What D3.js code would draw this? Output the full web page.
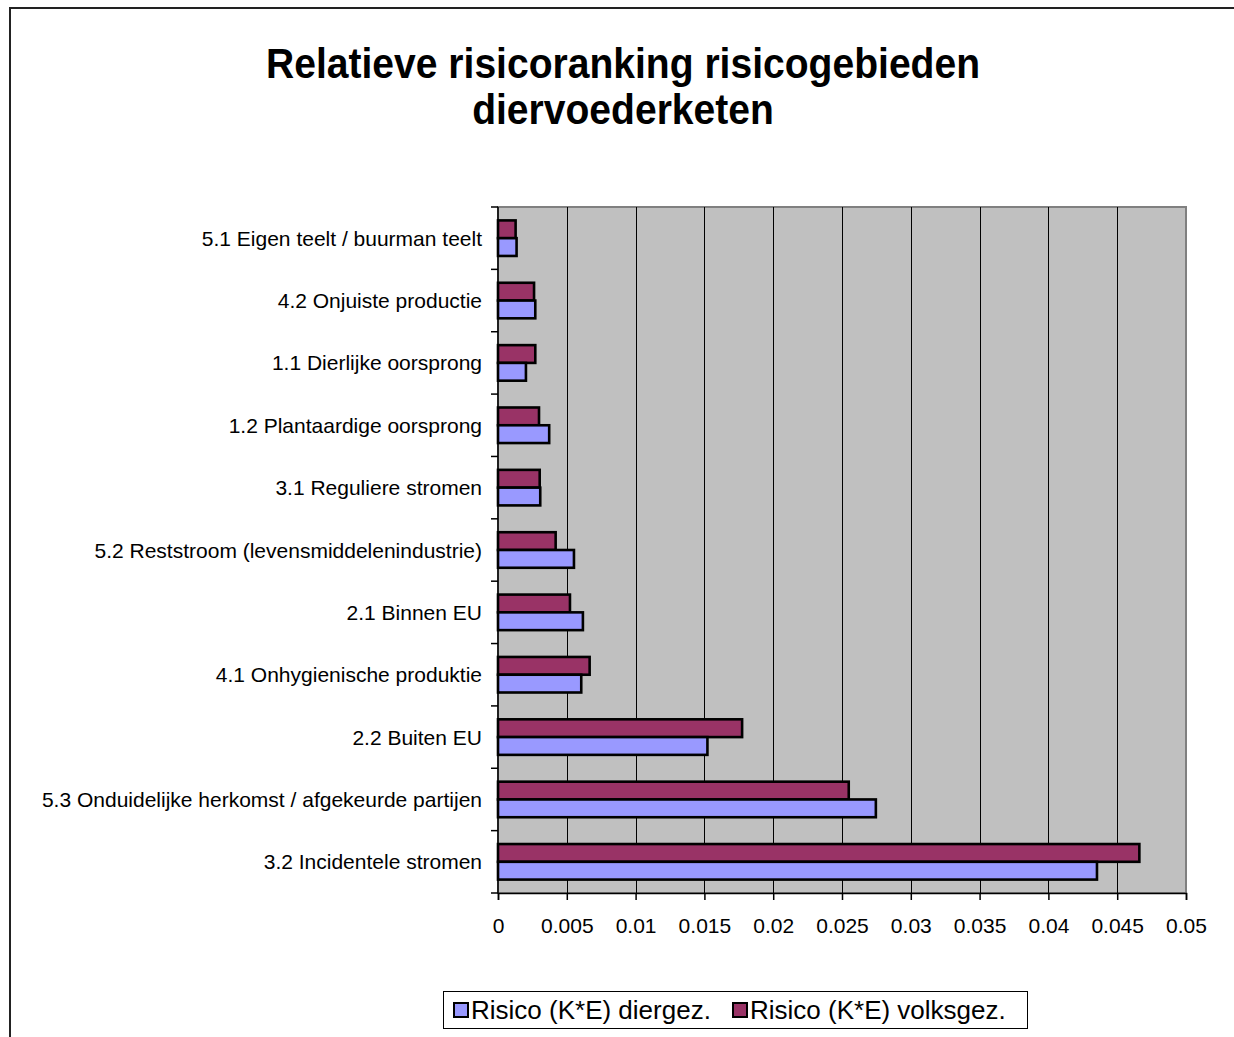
<!DOCTYPE html>
<html>
<head>
<meta charset="utf-8">
<script src="https://cdn.jsdelivr.net/npm/d3@7"></script>
<style>
  body { margin: 0; background: #fff; }
  text { font-family: "Liberation Sans", Arial, sans-serif; fill: #000; }
</style>
</head>
<body>
<svg></svg>
<script>
// categories, listed top to bottom as they appear
const categories = [
	"5.1 Eigen teelt / buurman teelt",
	"4.2 Onjuiste productie",
	"1.1 Dierlijke oorsprong",
	"1.2 Plantaardige oorsprong",
	"3.1 Reguliere stromen",
	"5.2 Reststroom (levensmiddelenindustrie)",
	"2.1 Binnen EU",
	"4.1 Onhygienische produktie",
	"2.2 Buiten EU",
	"5.3 Onduidelijke herkomst / afgekeurde partijen",
	"3.2 Incidentele stromen",
];
const diergez = [0.00135, 0.00271, 0.00203, 0.00372, 0.00307, 0.00552, 0.00617, 0.00605, 0.01522, 0.02746, 0.04353];
const volksgez = [0.00128, 0.00262, 0.00271, 0.00298, 0.00303, 0.00419, 0.00523, 0.00666, 0.01774, 0.02549, 0.04661];
const seriesNames = ["Risico (K*E) diergez.", "Risico (K*E) volksgez."];
const xTicks = [0, 0.005, 0.01, 0.015, 0.02, 0.025, 0.03, 0.035, 0.04, 0.045, 0.05];

const size = { w: 1234, h: 1037 };
const plot = { l: 498, r: 1186, t: 207, b: 893 };
const colors = { dier: "#9999FF", volks: "#993366" };

const svg = d3.select("svg").attr("width", size.w).attr("height", size.h);

// outer chart border (cut off at right and bottom)
svg.append("path")
	.attr("d", `M10,${size.h + 5}V8H${size.w + 5}`)
	.attr("fill", "none")
	.attr("stroke", "#222")
	.attr("stroke-width", 2);

// title (Excel renders it a bit condensed)
const title = svg.append("text")
	.attr("text-anchor", "middle")
	.attr("font-weight", "bold")
	.attr("font-size", 42)
	.attr("transform", "translate(623,0) scale(0.93,1)");
title.append("tspan").attr("x", 0).attr("y", 78).text("Relatieve risicoranking risicogebieden");
title.append("tspan").attr("x", 0).attr("y", 124).text("diervoederketen");

const x = d3.scaleLinear().domain([0, 0.05]).range([plot.l, plot.r]);
const y = d3.scaleBand().domain(categories).range([plot.t, plot.b]).paddingInner(0.43).paddingOuter(0.215);
const step = y.step();

// plot background
svg.append("rect")
	.attr("x", plot.l).attr("y", plot.t)
	.attr("width", plot.r - plot.l).attr("height", plot.b - plot.t)
	.attr("fill", "#C0C0C0")
	.attr("stroke", "#808080")
	.attr("stroke-width", 2);

// vertical gridlines
svg.append("g")
	.selectAll("line")
	.data(xTicks.filter((d) => d > 0 && d < 0.05))
	.join("line")
	.attr("x1", (d) => Math.round(x(d)) + 0.5)
	.attr("x2", (d) => Math.round(x(d)) + 0.5)
	.attr("y1", plot.t)
	.attr("y2", plot.b)
	.attr("stroke", "#000")
	.attr("stroke-width", 1);

// bars
const half = y.bandwidth() / 2;
const barsG = svg.append("g");
const rows = categories.map((c, i) => ({ c, dier: diergez[i], volks: volksgez[i] }));

barsG.selectAll("rect.volks")
	.data(rows)
	.join("rect")
	.classed("volks", true)
	.attr("x", x(0))
	.attr("y", (d) => y(d.c))
	.attr("width", (d) => x(d.volks) - x(0))
	.attr("height", half)
	.attr("fill", colors.volks)
	.attr("stroke", "#000")
	.attr("stroke-width", 2.6);

barsG.selectAll("rect.dier")
	.data(rows)
	.join("rect")
	.classed("dier", true)
	.attr("x", x(0))
	.attr("y", (d) => y(d.c) + half)
	.attr("width", (d) => x(d.dier) - x(0))
	.attr("height", half)
	.attr("fill", colors.dier)
	.attr("stroke", "#000")
	.attr("stroke-width", 2.6);

// x axis
const xAxis = svg.append("g")
	.attr("transform", `translate(0,${plot.b})`)
	.call(d3.axisBottom(x).tickValues(xTicks).tickSize(7).tickPadding(18).tickFormat((d) => String(+d.toFixed(3))));
xAxis.select(".domain").attr("stroke", "#000").attr("stroke-width", 1.5);
xAxis.selectAll("line").attr("stroke", "#000").attr("stroke-width", 1.5);
xAxis.selectAll("text").attr("font-size", 21).attr("font-family", "Liberation Sans, Arial, sans-serif");

// y axis: ticks at category boundaries, labels centred in bands
const yAxis = svg.append("g");
yAxis.append("line")
	.attr("x1", plot.l).attr("x2", plot.l)
	.attr("y1", plot.t).attr("y2", plot.b)
	.attr("stroke", "#000").attr("stroke-width", 1.5);
yAxis.selectAll("line.tick")
	.data(d3.range(categories.length + 1))
	.join("line")
	.classed("tick", true)
	.attr("x1", plot.l - 7).attr("x2", plot.l)
	.attr("y1", (i) => plot.t + i * step)
	.attr("y2", (i) => plot.t + i * step)
	.attr("stroke", "#000").attr("stroke-width", 1.5);
yAxis.selectAll("text")
	.data(categories)
	.join("text")
	.attr("x", 482)
	.attr("y", (d) => y(d) + half)
	.attr("dy", "0.36em")
	.attr("text-anchor", "end")
	.attr("font-size", 21)
	.text((d) => d);

// legend
const legend = svg.append("g");
legend.append("rect")
	.attr("x", 443.5).attr("y", 991.5)
	.attr("width", 584).attr("height", 37)
	.attr("fill", "#fff")
	.attr("stroke", "#000")
	.attr("stroke-width", 1);
const legendItems = [
	{ name: seriesNames[0], color: colors.dier, x: 454 },
	{ name: seriesNames[1], color: colors.volks, x: 733 },
];
const li = legend.selectAll("g.item").data(legendItems).join("g").classed("item", true);
li.append("rect")
	.attr("x", (d) => d.x).attr("y", 1003)
	.attr("width", 14).attr("height", 14)
	.attr("fill", (d) => d.color)
	.attr("stroke", "#000")
	.attr("stroke-width", 2);
li.append("text")
	.attr("x", (d) => d.x + 17)
	.attr("y", 1019)
	.attr("font-size", 26)
	.text((d) => d.name);
</script>
</body>
</html>
